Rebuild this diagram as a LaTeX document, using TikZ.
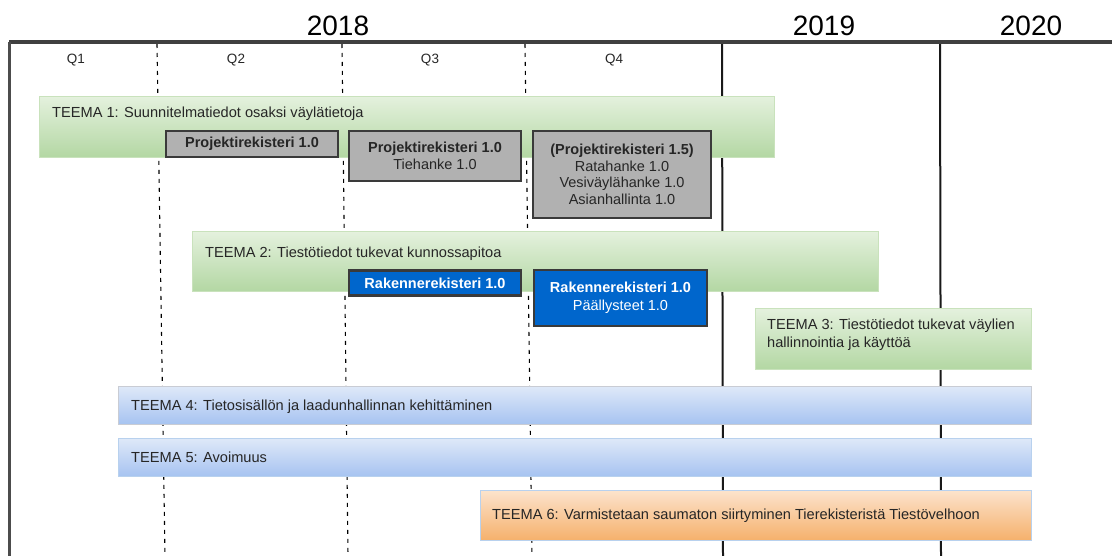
\documentclass[tikz,border=0pt]{standalone}
\usepackage{fontspec}
\setmainfont{Liberation Sans}
\definecolor{gtop}{HTML}{E4F1DD}
\definecolor{gbot}{HTML}{B3D7A3}
\definecolor{gline}{HTML}{C9E2BC}
\definecolor{btop}{HTML}{DEE8F8}
\definecolor{bbot}{HTML}{A6C3F1}
\definecolor{bline}{HTML}{B8D1EE}
\definecolor{bline4}{HTML}{C9CCD4}
\definecolor{otop}{HTML}{FCE3CC}
\definecolor{obot}{HTML}{F5B06B}
\definecolor{grayfill}{HTML}{B1B1B1}
\definecolor{darkline}{HTML}{3A3A3A}
\definecolor{boxblue}{HTML}{0066CC}
\definecolor{txt}{HTML}{262626}
\begin{document}
\begin{tikzpicture}[x=1pt,y=-1pt,
  bar/.style={anchor=north west, inner sep=0pt, line width=1.2pt},
  gbar/.style={bar, draw=gline, top color=gtop, bottom color=gbot},
  bbar/.style={bar, draw=bline, top color=btop, bottom color=bbot},
  obar/.style={bar, draw=bline, top color=otop, bottom color=obot},
  lbl/.style={anchor=base west, inner sep=0pt, text=txt, font=\fontsize{14.6}{17}\selectfont},
  qlbl/.style={anchor=base, inner sep=0pt, text=txt, font=\fontsize{13.5}{15}\selectfont},
  year/.style={anchor=base, inner sep=0pt, text=black, font=\fontsize{28}{30}\selectfont},
  graybox/.style={draw=darkline, fill=grayfill, line width=2.2pt, inner sep=0pt, align=center, text=txt, font=\fontsize{14.5}{16.5}\selectfont},
  bluebox/.style={draw=darkline, fill=boxblue, line width=2.2pt, inner sep=0pt, align=center, text=white, font=\fontsize{14.5}{17.5}\selectfont},
  qgrid/.style={black, line width=1.1pt, dash pattern=on 4pt off 5pt},
  ygrid/.style={black!90, line width=2pt}
]
\useasboundingbox (0,0) rectangle (1112,556);

% grid
\coordinate (g1a) at (157,44); \coordinate (g1b) at (165,556);
\coordinate (g2a) at (342,44); \coordinate (g2b) at (348,556);
\coordinate (g3a) at (525,44); \coordinate (g3b) at (532,556);
\coordinate (y1a) at (722,42); \coordinate (y1b) at (723,556);
\coordinate (y2a) at (940,42); \coordinate (y2b) at (941,556);
\draw[qgrid] (g1a) -- (g1b);
\draw[qgrid] (g2a) -- (g2b);
\draw[qgrid] (g3a) -- (g3b);
\draw[ygrid] (y1a) -- (y1b);
\draw[ygrid] (y2a) -- (y2b);
\coordinate (tl) at (9,42); \coordinate (tr) at (1112,42); \coordinate (bl) at (9,556);
\draw[line width=3.5pt, black!75] (tr) -- (tl);
\draw[line width=3pt, black!70] (tl) -- (bl);

% years and quarters
\node[year] (y2018) at (338,36) {2018};
\node[year] (y2019) at (824,36) {2019};
\node[year] (y2020) at (1031,36) {2020};
\node[qlbl] (q1) at (76,64) {Q1};
\node[qlbl] (q2) at (236,64) {Q2};
\node[qlbl] (q3) at (430,64) {Q3};
\node[qlbl] (q4) at (614,64) {Q4};

% theme bars
\node[gbar, minimum width=735pt, minimum height=61pt] (t1) at (39,96) {};
\node[lbl] (t1l) at (52,118) {TEEMA 1: Suunnitelmatiedot osaksi väylätietoja};
\node[gbar, minimum width=686pt, minimum height=60pt] (t2) at (192,231) {};
\node[lbl] (t2l) at (205,258) {TEEMA 2: Tiestötiedot tukevat kunnossapitoa};
\node[gbar, minimum width=276pt, minimum height=61pt] (t3) at (755,308) {};
\node[lbl] (t3l) at (767,330) {TEEMA 3: Tiestötiedot tukevat väylien};
\node[lbl] (t3m) at (767,348) {hallinnointia ja käyttöä};
\node[bbar, draw=bline4, minimum width=913pt, minimum height=38pt] (t4) at (118,386) {};
\node[lbl] (t4l) at (131,410) {TEEMA 4: Tietosisällön ja laadunhallinnan kehittäminen};
\node[bbar, minimum width=913pt, minimum height=38pt] (t5) at (118,438) {};
\node[lbl] (t5l) at (131,462) {TEEMA 5: Avoimuus};
\node[obar, minimum width=551pt, minimum height=50pt] (t6) at (480,490) {};
\node[lbl] (t6l) at (492,519) {TEEMA 6: Varmistetaan saumaton siirtyminen Tierekisteristä Tiestövelhoon};

% registry boxes
\node[graybox, minimum width=172pt, minimum height=26pt] (p1) at (252,144) {\bfseries Projektirekisteri 1.0};
\node[graybox, minimum width=172pt, minimum height=50pt] (p2) at (435,156) {\bfseries Projektirekisteri 1.0\\Tiehanke 1.0};
\node[graybox, minimum width=178pt, minimum height=87pt] (p3) at (622,174.5) {\bfseries (Projektirekisteri 1.5)\\Ratahanke 1.0\\Vesiväylähanke 1.0\\Asianhallinta 1.0};
\node[bluebox, minimum width=172pt, minimum height=25pt] (r1) at (435,283) {\bfseries Rakennerekisteri 1.0};
\node[bluebox, minimum width=173pt, minimum height=56pt] (r2) at (620.5,298) {\bfseries Rakennerekisteri 1.0\\Päällysteet 1.0};
\end{tikzpicture}
\end{document}
